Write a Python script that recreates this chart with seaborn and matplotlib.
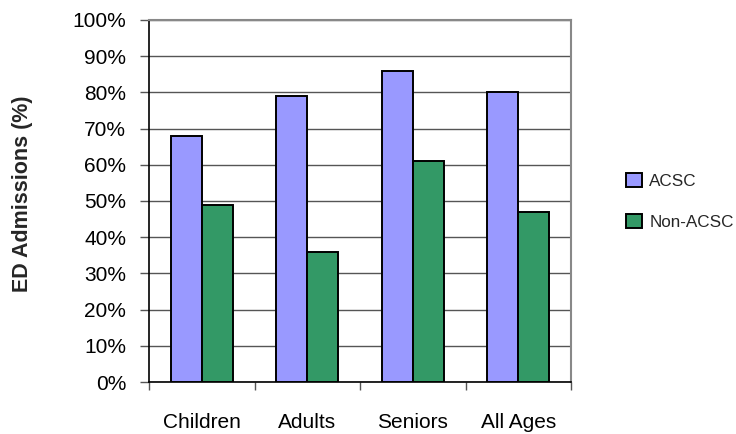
import matplotlib
matplotlib.use("Agg")
import matplotlib.pyplot as plt
from matplotlib.ticker import FixedLocator, PercentFormatter
import seaborn as sns
import pandas as pd

# Share of ED admissions by age group and condition type
age_groups = ["Children", "Adults", "Seniors", "All Ages"]
acsc = [68, 79, 86, 80]
non_acsc = [49, 36, 61, 47]
series_names = ["ACSC", "Non-ACSC"]
palette = ["#9999FF", "#339966"]

df = pd.DataFrame({
    "group": age_groups * 2,
    "value": acsc + non_acsc,
    "series": [series_names[0]] * len(age_groups) + [series_names[1]] * len(age_groups),
})

sns.set_theme(style="white")
plt.rcParams["font.family"] = ["Liberation Sans", "DejaVu Sans"]

fig = plt.figure(figsize=(7.36, 4.34), dpi=100)
ax = fig.add_axes([149 / 736, 1 - 382 / 434, (571 - 149) / 736, (382 - 20) / 434])

sns.barplot(
    data=df, x="group", y="value", hue="series", order=age_groups,
    hue_order=series_names, palette=palette, width=0.59, gap=0,
    edgecolor="black", linewidth=1.4, saturation=1, ax=ax, legend=True,
    zorder=3,
)

ax.set_ylim(0, 100)
ax.set_xlim(-0.5, len(age_groups) - 0.5)
ax.set_yticks(range(0, 101, 10))
ax.yaxis.set_major_formatter(PercentFormatter(decimals=0))
ax.yaxis.grid(True, color="#555555", linewidth=1.0, zorder=0)
ax.xaxis.grid(False)

# category labels centred, tick marks between categories
ax.xaxis.set_minor_locator(FixedLocator([i - 0.5 for i in range(len(age_groups) + 1)]))
ax.tick_params(axis="x", which="major", length=0, pad=22, labelsize=15, colors="black")
ax.tick_params(axis="x", which="minor", length=6, width=1, color="#555555", direction="out", bottom=True)
ax.tick_params(axis="y", which="major", length=6.5, width=1, color="#555555", direction="out",
               left=True, pad=10, labelsize=15, labelcolor="black")

for side in ("top", "right"):
    ax.spines[side].set_color("#888888")
    ax.spines[side].set_linewidth(1.5)
for side in ("left", "bottom"):
    ax.spines[side].set_color("black")
    ax.spines[side].set_linewidth(1.2)

ax.set_xlabel("")
ax.set_ylabel("ED Admissions (%)", fontsize=15.5, fontweight="bold")
ax.yaxis.set_label_coords(-0.275, 0.52)

handles, labels = ax.get_legend_handles_labels()
ax.legend_.remove()
fig.legend(handles, labels, loc="center left", bbox_to_anchor=(0.83, 0.536),
           frameon=False, fontsize=12.3, handlelength=0.9, handleheight=0.9,
           handletextpad=0.45, labelspacing=1.45)

fig.savefig("out.png", dpi=100)
